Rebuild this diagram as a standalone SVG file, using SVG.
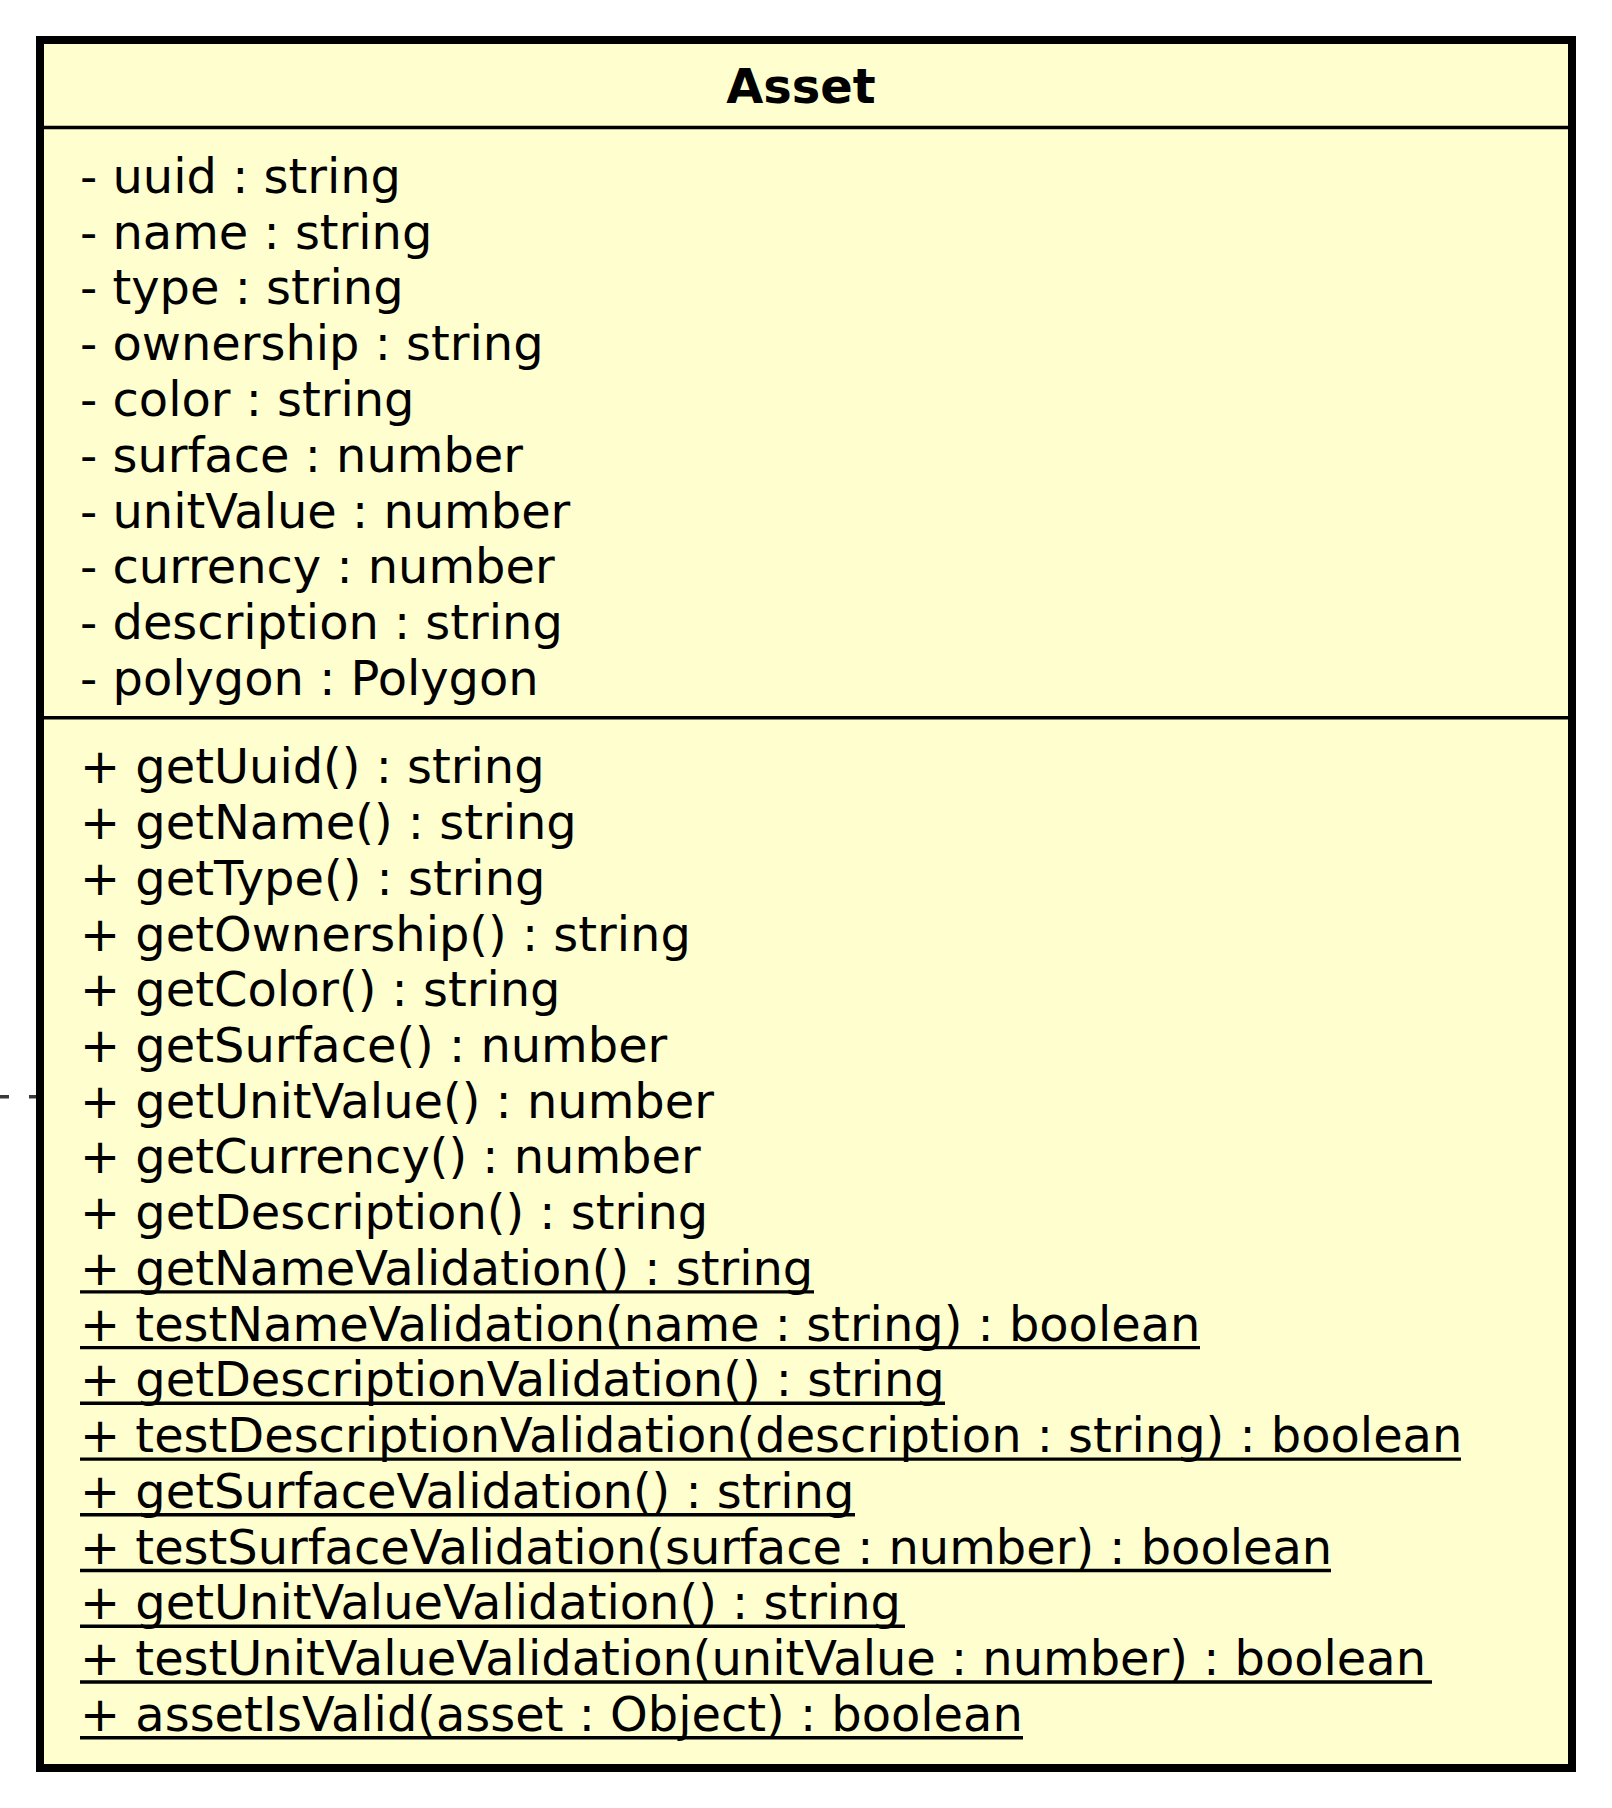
<svg xmlns="http://www.w3.org/2000/svg" width="1612" height="1808" viewBox="0 0 1612 1808">
<style>
.t{font-family:"DejaVu Sans",sans-serif;font-size:47.9px;fill:#000}
.b{font-weight:bold}
.sep{stroke:#000;stroke-width:3.4}
.ul{stroke:#000;stroke-width:3.4}
</style>
<rect width="1612" height="1808" fill="#fff"/>
<g id="connectors">
<path d="M -1 1096.7 L 40 1096.7" fill="none" stroke="#383838" stroke-width="3.4" stroke-dasharray="10 20"/>
</g>
<g id="Asset">
<rect x="40" y="40" width="1532" height="1728" fill="#FEFECE" stroke="#000" stroke-width="8"/>
<text class="t b" x="801" y="103.3" text-anchor="middle">Asset</text>
<line class="sep" x1="44" y1="127.5" x2="1568" y2="127.5"/>
<text class="t" x="80" y="192.7">- uuid : string</text>
<text class="t" x="80" y="248.5">- name : string</text>
<text class="t" x="80" y="304.3">- type : string</text>
<text class="t" x="80" y="360.1">- ownership : string</text>
<text class="t" x="80" y="415.9">- color : string</text>
<text class="t" x="80" y="471.7">- surface : number</text>
<text class="t" x="80" y="527.5">- unitValue : number</text>
<text class="t" x="80" y="583.3">- currency : number</text>
<text class="t" x="80" y="639.1">- description : string</text>
<text class="t" x="80" y="694.9">- polygon : Polygon</text>
<line class="sep" x1="44" y1="717.7" x2="1568" y2="717.7"/>
<text class="t" x="80" y="783.3">+ getUuid() : string</text>
<text class="t" x="80" y="839.0">+ getName() : string</text>
<text class="t" x="80" y="894.8">+ getType() : string</text>
<text class="t" x="80" y="950.5">+ getOwnership() : string</text>
<text class="t" x="80" y="1006.2">+ getColor() : string</text>
<text class="t" x="80" y="1062.0">+ getSurface() : number</text>
<text class="t" x="80" y="1117.7">+ getUnitValue() : number</text>
<text class="t" x="80" y="1173.4">+ getCurrency() : number</text>
<text class="t" x="80" y="1229.1">+ getDescription() : string</text>
<text class="t" x="80" y="1284.9">+ getNameValidation() : string</text>
<line class="ul" x1="80" y1="1291.9" x2="814" y2="1291.9"/>
<text class="t" x="80" y="1340.6">+ testNameValidation(name : string) : boolean</text>
<line class="ul" x1="80" y1="1347.6" x2="1200" y2="1347.6"/>
<text class="t" x="80" y="1396.3">+ getDescriptionValidation() : string</text>
<line class="ul" x1="80" y1="1403.3" x2="945" y2="1403.3"/>
<text class="t" x="80" y="1452.1">+ testDescriptionValidation(description : string) : boolean</text>
<line class="ul" x1="80" y1="1459.1" x2="1461" y2="1459.1"/>
<text class="t" x="80" y="1507.8">+ getSurfaceValidation() : string</text>
<line class="ul" x1="80" y1="1514.8" x2="855" y2="1514.8"/>
<text class="t" x="80" y="1563.5">+ testSurfaceValidation(surface : number) : boolean</text>
<line class="ul" x1="80" y1="1570.5" x2="1331" y2="1570.5"/>
<text class="t" x="80" y="1619.3">+ getUnitValueValidation() : string</text>
<line class="ul" x1="80" y1="1626.3" x2="905" y2="1626.3"/>
<text class="t" x="80" y="1675.0">+ testUnitValueValidation(unitValue : number) : boolean</text>
<line class="ul" x1="80" y1="1682.0" x2="1432" y2="1682.0"/>
<text class="t" x="80" y="1730.7">+ assetIsValid(asset : Object) : boolean</text>
<line class="ul" x1="80" y1="1737.7" x2="1023" y2="1737.7"/>
</g>
</svg>
